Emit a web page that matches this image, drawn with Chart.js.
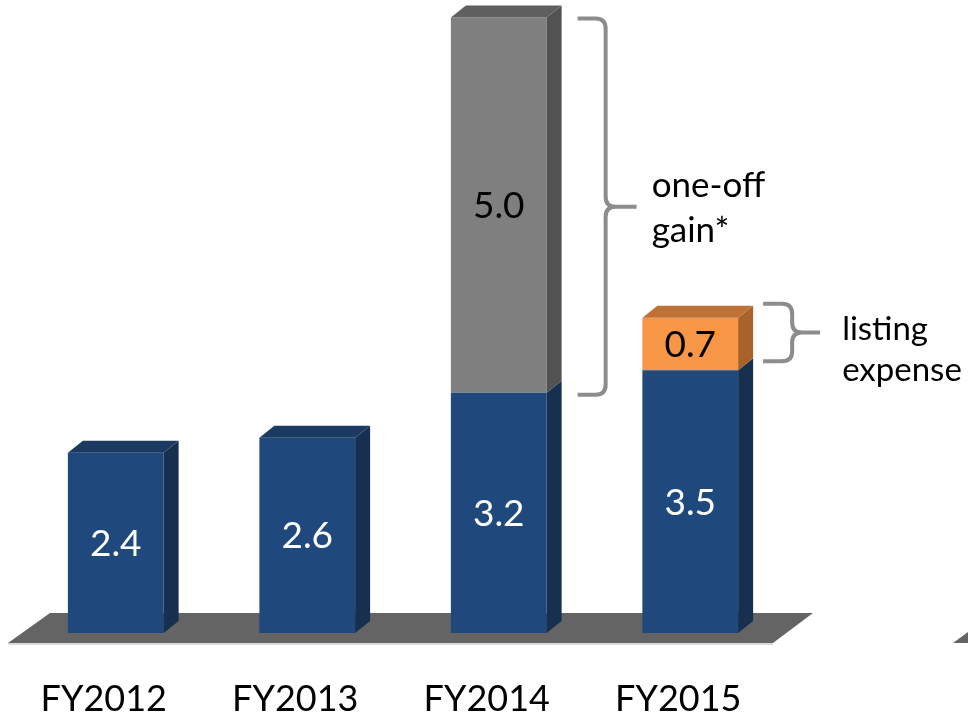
<!DOCTYPE html>
<html>
<head>
<meta charset="utf-8">
<script src="https://cdn.jsdelivr.net/npm/chart.js@4.4.1/dist/chart.umd.min.js"></script>
<style>
    html, body { margin: 0; padding: 0; background: #ffffff; }
    #wrap { width: 968px; height: 716px; position: relative; }
</style>
</head>
<body>
<div id="wrap"><canvas id="chart"></canvas></div>
<script>
// Données du graphique
const years = ['FY2012', 'FY2013', 'FY2014', 'FY2015'];
const coreValues = [2.4, 2.6, 3.2, 3.5];
const oneOffGain = [0, 0, 5.0, 0];
const listingExpense = [0, 0, 0, 0.7];
const oneOffNote = ['one-off', 'gain*'];
const listingNote = ['listing', 'expense'];
const yMax = 8.3;

const FONT = 'Lato, "Open Sans", sans-serif';
const DEPTH_X = 15;
const DEPTH_Y = 12;

// Couleurs des faces : avant, côté, dessus
const faces = [
    { front: '#1f497d', side: '#17304f', top: '#1b3a62', text: '#ffffff' },
    { front: '#7f7f7f', side: '#525252', top: '#5f5f5f', text: '#000000' },
    { front: '#f79646', side: '#a8622c', top: '#bf7236', text: '#000000' }
];

// Sol gris sous les barres
const floorPlugin = {
    id: 'floor',
    beforeDatasetsDraw(chart) {
        const ctx = chart.ctx;
        const x = chart.scales.x;
        const y0 = chart.scales.y.getPixelForValue(0);
        ctx.save();
        ctx.fillStyle = '#646464';
        ctx.beginPath();
        ctx.moveTo(x.left - 12, y0 + 10);
        ctx.lineTo(x.left + 30, y0 - 20);
        ctx.lineTo(x.right + 27, y0 - 20);
        ctx.lineTo(x.right - 13, y0 + 10);
        ctx.closePath();
        ctx.fill();
        ctx.strokeStyle = '#cfcfcf';
        ctx.lineWidth = 1.5;
        ctx.beginPath();
        ctx.moveTo(x.left - 12, y0 + 11);
        ctx.lineTo(x.right - 13, y0 + 11);
        ctx.stroke();
        // bord du panneau voisin (coin à droite)
        ctx.fillStyle = '#646464';
        ctx.beginPath();
        ctx.moveTo(chart.width - 15, y0 + 10);
        ctx.lineTo(chart.width, y0 - 1);
        ctx.lineTo(chart.width, y0 + 10);
        ctx.closePath();
        ctx.fill();
        ctx.restore();
    }
};

// Accolade grise
function drawBrace(ctx, xArm, xSpine, xTip, yTop, yBot) {
    const r = 10;
    const yMid = (yTop + yBot) / 2;
    ctx.beginPath();
    ctx.moveTo(xArm, yTop);
    ctx.lineTo(xSpine - r, yTop);
    ctx.quadraticCurveTo(xSpine, yTop, xSpine, yTop + r);
    ctx.lineTo(xSpine, yMid - r);
    ctx.quadraticCurveTo(xSpine, yMid, xSpine + r, yMid);
    ctx.lineTo(xTip, yMid);
    ctx.moveTo(xSpine + r, yMid);
    ctx.quadraticCurveTo(xSpine, yMid, xSpine, yMid + r);
    ctx.lineTo(xSpine, yBot - r);
    ctx.quadraticCurveTo(xSpine, yBot, xSpine - r, yBot);
    ctx.lineTo(xArm, yBot);
    ctx.stroke();
    return yMid;
}

// Faces 3D, valeurs et annotations
const boxPlugin = {
    id: 'box3d',
    afterDatasetsDraw(chart) {
        const ctx = chart.ctx;
        const sets = chart.data.datasets;
        ctx.save();
        years.forEach((_, j) => {
            let topBar = null;
            let topIdx = -1;
            sets.forEach((ds, i) => {
                if (!ds.data[j]) return;
                const b = chart.getDatasetMeta(i).data[j];
                const right = b.x + b.width / 2;
                ctx.fillStyle = faces[i].side;
                ctx.beginPath();
                ctx.moveTo(right, b.y);
                ctx.lineTo(right + DEPTH_X, b.y - DEPTH_Y);
                ctx.lineTo(right + DEPTH_X, b.base - DEPTH_Y);
                ctx.lineTo(right, b.base);
                ctx.closePath();
                ctx.fill();
                topBar = b;
                topIdx = i;
            });
            if (topBar) {
                const left = topBar.x - topBar.width / 2;
                const right = topBar.x + topBar.width / 2;
                ctx.fillStyle = faces[topIdx].top;
                ctx.beginPath();
                ctx.moveTo(left, topBar.y);
                ctx.lineTo(left + DEPTH_X, topBar.y - DEPTH_Y);
                ctx.lineTo(right + DEPTH_X, topBar.y - DEPTH_Y);
                ctx.lineTo(right, topBar.y);
                ctx.closePath();
                ctx.fill();
            }
        });

        // Valeurs au centre des faces avant
        ctx.font = '37px ' + FONT;
        ctx.textAlign = 'center';
        ctx.textBaseline = 'middle';
        sets.forEach((ds, i) => {
            chart.getDatasetMeta(i).data.forEach((b, j) => {
                const v = ds.data[j];
                if (!v) return;
                ctx.fillStyle = faces[i].text;
                ctx.fillText(v.toFixed(1), b.x, (b.y + b.base) / 2 + 1);
            });
        });

        // Accolades et notes
        ctx.strokeStyle = '#8c8c8c';
        ctx.lineWidth = 4;
        ctx.textAlign = 'left';
        ctx.textBaseline = 'alphabetic';
        ctx.fillStyle = '#000000';

        const g = chart.getDatasetMeta(1).data[2];
        const gr = g.x + g.width / 2;
        const m1 = drawBrace(ctx, gr + 31, gr + 59, gr + 90, g.y + 1, g.base + 2);
        ctx.font = '35px ' + FONT;
        ctx.fillText(oneOffNote[0], gr + 105, m1 - 10);
        ctx.fillText(oneOffNote[1], gr + 105, m1 + 35);

        const o = chart.getDatasetMeta(2).data[3];
        const or = o.x + o.width / 2;
        const m2 = drawBrace(ctx, or + 25, or + 54, or + 82, o.y - 14, o.base - 9);
        ctx.font = '33px ' + FONT;
        ctx.fillText(listingNote[0], or + 104, m2 + 7);
        ctx.fillText(listingNote[1], or + 104, m2 + 48);
        ctx.restore();
    }
};

new Chart(document.getElementById('chart'), {
    type: 'bar',
    data: {
        labels: years,
        datasets: [
            { label: 'Core', data: coreValues, backgroundColor: faces[0].front },
            { label: 'One-off gain', data: oneOffGain, backgroundColor: faces[1].front },
            { label: 'Listing expense', data: listingExpense, backgroundColor: faces[2].front }
        ]
    },
    options: {
        responsive: true,
        maintainAspectRatio: false,
        animation: false,
        layout: { padding: { left: 20, right: 182, top: 10, bottom: 0 } },
        datasets: { bar: { categoryPercentage: 1, barPercentage: 0.5, borderWidth: 0 } },
        plugins: { legend: { display: false }, tooltip: { enabled: false } },
        scales: {
            x: {
                stacked: true,
                grid: { display: false, drawTicks: false },
                border: { display: false },
                ticks: { color: '#000000', font: { family: FONT, size: 36 }, padding: 45, labelOffset: -12 },
                afterFit(scale) { scale.height = 83; }
            },
            y: { stacked: true, display: false, min: 0, max: yMax }
        }
    },
    plugins: [floorPlugin, boxPlugin]
});
</script>
</body>
</html>
